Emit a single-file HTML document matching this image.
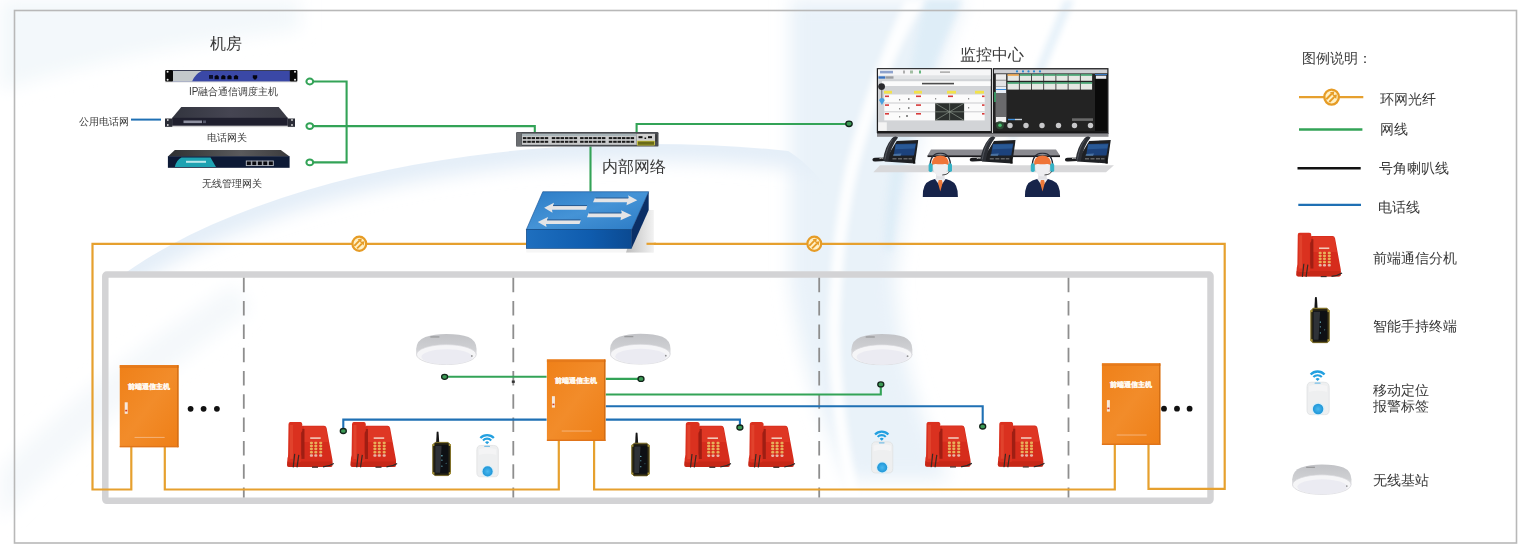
<!DOCTYPE html>
<html><head><meta charset="utf-8">
<style>
html,body{margin:0;padding:0;background:#ffffff;}
body{width:1524px;height:552px;overflow:hidden;position:relative;font-family:"Liberation Sans",sans-serif;}
svg{position:absolute;left:0;top:0;}
text{font-family:"Liberation Sans",sans-serif;fill:#383838;}
</style></head><body>
<svg width="1524" height="552" viewBox="0 0 1524 552">
<defs>
<linearGradient id="apG" x1="0" y1="0" x2="0" y2="1">
<stop offset="0" stop-color="#c2c3c7"/><stop offset="0.5" stop-color="#cfd0d3"/><stop offset="0.7" stop-color="#e2e2e5"/><stop offset="1" stop-color="#ededf0"/>
</linearGradient>
<linearGradient id="cabG" x1="0" y1="0" x2="1" y2="1">
<stop offset="0" stop-color="#ef8018"/><stop offset="0.5" stop-color="#f28c2a"/><stop offset="1" stop-color="#ee7e16"/>
</linearGradient>
<linearGradient id="rtTop" x1="0" y1="0" x2="1" y2="1">
<stop offset="0" stop-color="#2c7cc6"/><stop offset="0.5" stop-color="#4593d6"/><stop offset="1" stop-color="#2b7ac4"/>
</linearGradient>
<linearGradient id="rtFront" x1="0" y1="0" x2="1" y2="0">
<stop offset="0" stop-color="#1e6fbf"/><stop offset="0.6" stop-color="#0f5cae"/><stop offset="1" stop-color="#0b4a92"/>
</linearGradient>
<linearGradient id="rtShadow" x1="0" y1="0" x2="1" y2="0">
<stop offset="0" stop-color="#bdbdbd"/><stop offset="0.5" stop-color="#d8d8d8"/><stop offset="1" stop-color="#f2f2f2"/>
</linearGradient>
<linearGradient id="srv3Top" x1="0" y1="0" x2="1" y2="0">
<stop offset="0" stop-color="#2e3032"/><stop offset="0.6" stop-color="#5a5a5c"/><stop offset="1" stop-color="#3a3a3c"/>
</linearGradient>
<linearGradient id="srv2Top" x1="0" y1="0" x2="1" y2="0">
<stop offset="0" stop-color="#33353f"/><stop offset="0.5" stop-color="#454552"/><stop offset="1" stop-color="#3b3c45"/>
</linearGradient>
<linearGradient id="arcG" x1="0" y1="0" x2="0" y2="1"><stop offset="0" stop-color="#e6f0f8"/><stop offset="1" stop-color="#ffffff" stop-opacity="0"/></linearGradient>
<radialGradient id="tagBtn" cx="0.5" cy="0.5" r="0.5">
<stop offset="0" stop-color="#4ab8ee"/><stop offset="1" stop-color="#1f96d8"/>
</radialGradient>

<!-- red phone 48x46 -->
<symbol id="phone" viewBox="0 0 48 46">
<path d="M1,43 L1.5,36 Q3,30 7,28 L15.6,4.8 Q16,3.8 17,3.8 L38,3.8 Q40,3.8 40.6,6 L46.5,38 L46.5,43 Q46.5,45 44.5,45 L3,45 Q1,45 1,43 Z" fill="#d62c1c"/>
<path d="M18,4.5 L38,4.5 Q39.6,4.5 40,6.5 L42.5,20 L18,20 Z" fill="#e23c28" opacity="0.7"/>
<path d="M1.2,39.5 L46.5,39.5 L46.5,43 Q46.5,45 44.5,45 L3,45 Q1,45 1,43 Z" fill="#b92414" opacity="0.55"/>
<path d="M15.2,7 L18.5,7 L18.5,37 L15.2,37 Z" fill="#8c1a10" opacity="0.75"/>
<path d="M2.5,2.5 Q2.5,0 5,0 L13.8,0 Q16.3,0 16.3,2.5 L16.3,9 Q14.8,10.5 14.6,12 L14.6,31 Q15.3,33 15.3,35 L15.3,38.5 Q15.3,40.5 13.3,40.5 L4,40.5 Q2,40.5 2,38.5 Z" fill="#da311f"/>
<path d="M4,3 L7,3 L7,37 L4,37 Z" fill="#ec5c42" opacity="0.4"/>
<rect x="24.2" y="15.4" width="10.5" height="1.6" fill="#f2c8b8"/>
<g fill="#e9ad5a">
<rect x="23.8" y="19.8" width="3.2" height="2.5" rx="1.1"/><rect x="28.2" y="19.8" width="3.2" height="2.5" rx="1.1"/><rect x="33.1" y="19.8" width="3.2" height="2.5" rx="1.1"/>
<rect x="23.8" y="22.8" width="3.2" height="2.5" rx="1.1"/><rect x="28.2" y="22.8" width="3.2" height="2.5" rx="1.1"/><rect x="33.1" y="22.8" width="3.2" height="2.5" rx="1.1"/>
<rect x="23.8" y="25.8" width="3.2" height="2.5" rx="1.1"/><rect x="28.2" y="25.8" width="3.2" height="2.5" rx="1.1"/><rect x="33.1" y="25.8" width="3.2" height="2.5" rx="1.1"/>
<rect x="23.8" y="29" width="3.2" height="2.5" rx="1.1"/><rect x="28.2" y="29" width="3.2" height="2.5" rx="1.1"/><rect x="33.1" y="29" width="3.2" height="2.5" rx="1.1"/>
</g>
<g fill="#e8b4a6"><rect x="23.8" y="32.4" width="3.2" height="2.5" rx="1.1"/><rect x="28.2" y="32.4" width="3.2" height="2.5" rx="1.1"/><rect x="33.1" y="32.4" width="3.2" height="2.5" rx="1.1"/></g>
<path d="M8.7,32 L7.2,45.5 M12.8,33 L11,45.5" stroke="#3a2a24" stroke-width="1.2"/>
<path d="M37,45 Q43,44.5 47.8,41.5" stroke="#2a2a2a" stroke-width="1.2" fill="none"/>
<rect x="26" y="44.6" width="6" height="1.3" fill="#3a2a2a"/>
</symbol>

<!-- handheld 19x45 -->
<symbol id="hand" viewBox="0 0 19 45">
<path d="M4.6,0.5 Q5.5,0 6.4,0.5 L7.2,12 L4,12 Z" fill="#151515"/>
<path d="M3,11.2 L16,11.2 L18.4,13.6 L18.4,42.2 L16,44.6 L3,44.6 L0.6,42.2 L0.6,13.6 Z" fill="#2a2614" stroke="#80702a" stroke-width="1"/>
<rect x="2.6" y="13.6" width="13.8" height="28.6" rx="1.2" fill="#0e1014"/>
<path d="M3.2,14.5 L9.5,14.5 L8,41.5 L3.2,41.5 Z" fill="#4a4e54" opacity="0.55"/>
<circle cx="9.8" cy="24.5" r="0.7" fill="#7fd8e8"/><circle cx="9.8" cy="29" r="0.6" fill="#6ab8c8"/><circle cx="9.8" cy="35" r="0.6" fill="#6ab8c8"/><circle cx="14" cy="32" r="0.5" fill="#5a9aa8"/>
<g fill="#a89438"><rect x="0.3" y="12.8" width="2" height="2"/><rect x="16.7" y="12.8" width="2" height="2"/><rect x="0.3" y="41" width="2" height="2"/><rect x="16.7" y="41" width="2" height="2"/></g>
</symbol>

<!-- location tag 24x45 -->
<symbol id="tag" viewBox="0 0 24 45">
<g fill="none" stroke="#23a0e0">
<path d="M4.6,4.6 A9.4,9.4 0 0 1 18.4,4.6" stroke-width="2.3"/>
<path d="M7.3,7.1 A5.7,5.7 0 0 1 15.7,7.1" stroke-width="2.1"/>
</g>
<path d="M9.4,9 A3,3 0 0 1 13.6,9 L11.5,11 Z" fill="#23a0e0"/>
<path d="M5,12.2 L18,12.2 Q22.8,12.2 23,17 L23,40 Q23,44.5 18.5,44.5 L5.5,44.5 Q1,44.5 1,40 L1,17 Q1.2,12.2 5,12.2 Z" fill="#eeeff0" stroke="#dcdedf" stroke-width="0.7"/>
<path d="M3,16 Q12,13.5 21,16 L21,22 Q12,19.5 3,22 Z" fill="#f6f6f7" opacity="0.7"/>
<rect x="8.5" y="12.5" width="6" height="1.3" rx="0.6" fill="#7ac0e6"/>
<circle cx="12" cy="38.8" r="6.4" fill="#d8eef8"/>
<circle cx="12" cy="38.8" r="5.2" fill="url(#tagBtn)"/>
</symbol>

<!-- AP 62x32 -->
<symbol id="ap" viewBox="0 0 62 32">
<path d="M0.8,21 L0.8,16 Q1.5,7 10,4 Q19,1 31,1 Q45,1 53,4 Q61,7.5 61.2,16 L61.2,21 A30.2,10.5 0 0 1 0.8,21 Z" fill="url(#apG)"/>
<ellipse cx="31" cy="21.6" rx="29.8" ry="10" fill="#f5f5f7" stroke="#d6d6da" stroke-width="0.7"/>
<ellipse cx="31.5" cy="23.8" rx="25.5" ry="7.6" fill="#ebebf2"/>
<rect x="15" y="3.3" width="9" height="1.3" fill="#777" opacity="0.55"/>
<circle cx="56.5" cy="23" r="0.9" fill="#555" opacity="0.6"/>
</symbol>

<!-- cabinet 59x82 -->
<symbol id="cab" viewBox="0 0 59 82">
<rect x="0" y="0" width="59" height="82" fill="url(#cabG)"/>
<rect x="0" y="0" width="59" height="2.8" fill="#e67a1a"/>
<rect x="57.5" y="0" width="1.5" height="82" fill="#d06c14"/>
<rect x="0" y="80.5" width="59" height="1.5" fill="#e0741a"/>
<text x="29.5" y="23.4" text-anchor="middle" font-size="7.3" font-weight="bold" style="font-family:'Liberation Serif',serif;fill:#fff8ee;stroke:#fff8ee;stroke-width:0.2">前端通信主机</text>
<rect x="5.2" y="37" width="3" height="11.5" fill="#f6e8dc"/>
<rect x="5.7" y="44.5" width="2" height="1.6" fill="#d23a20"/>
<rect x="15" y="71.5" width="30" height="1" fill="#f8d0b0" opacity="0.6"/>
</symbol>

<!-- IP desk phone -->
<symbol id="ipphone" viewBox="0 0 47 29">
<path d="M1,24.2 Q0.6,22 3.5,21.8 L13,21.5 L13.5,25 L4,25.6 Q1.4,25.8 1,24.2 Z" fill="#1c1d20"/>
<path d="M8,22.6 Q10,21.6 12,22.4" stroke="#ddd" stroke-width="0.8" fill="none"/>
<path d="M25.2,4.9 L46.8,4.1 L43.4,27.4 L12.9,25.4 Z" fill="#1e2024"/>
<path d="M24,8 L44.6,7.4 L42.4,19.6 L22.2,19.6 Z" fill="#1c427c"/>
<path d="M24.5,8.6 L44,8.2 L43.2,12.5 L23.6,13.2 Z" fill="#3670b0" opacity="0.5"/>
<path d="M22,18 L30,17.5 L29,20 L21.5,20 Z" fill="#8ab8e0" opacity="0.4"/>
<g fill="#aaa" opacity="0.8"><rect x="21" y="22.4" width="4" height="0.9"/><rect x="26.5" y="22.4" width="4" height="0.9"/><rect x="32" y="22.4" width="4" height="0.9"/><rect x="37" y="22.4" width="3.5" height="0.9"/></g>
<path d="M11.5,24.5 Q13,11 20.5,2.2 Q22.3,0.2 24.5,0.6 L26.6,1.6 Q19.5,10 16.8,25 Z" fill="#2c2f35"/>
<path d="M20.8,3.5 Q15.5,11 13.4,23.5" stroke="#5a5e66" stroke-width="0.8" fill="none"/>
<path d="M42,19 L44,27.6 L41.5,27.6 Z" fill="#111"/>
</symbol>

<!-- operator -->
<symbol id="person" viewBox="0 0 36 45">
<path d="M0.4,44.6 Q0,31 8,28 Q12,26.2 18,26.2 Q24,26.2 28,28 Q36,31 35.6,44.6 Z" fill="#17244a"/>
<path d="M12.5,26.3 L18,34 L23.5,26.3 Z" fill="#f0f0f4"/>
<path d="M16.4,27.5 L19.6,27.5 L20.3,30.5 L18,39 L15.7,30.5 Z" fill="#ee7a3a"/>
<rect x="13.8" y="19" width="8.4" height="8" fill="#e2e2e6"/>
<path d="M10.5,11 Q10.5,23.5 18,24.2 Q25.5,23.5 25.5,11 Z" fill="#eeeef1"/>
<path d="M9.3,13.8 Q8.8,3.2 18,3.2 Q27.2,3.2 26.7,13.8 Q25,11.2 22.5,11.6 Q18,12.3 13.5,11.6 Q11,11.2 9.3,13.8 Z" fill="#ef7438"/>
<path d="M7.8,15 Q7.4,0.8 18,0.8 Q28.6,0.8 28.2,15" fill="none" stroke="#262a36" stroke-width="1.3"/>
<rect x="6.3" y="10.8" width="4" height="8.8" rx="1.8" fill="#35b2c6"/>
<rect x="25.7" y="10.8" width="4" height="8.8" rx="1.8" fill="#35b2c6"/>
<path d="M27,19 Q26,22.2 20,22.6" fill="none" stroke="#333" stroke-width="0.9"/>
</symbol>

<!-- fiber symbol -->
<symbol id="fiber" viewBox="-9 -9 18 18">
<ellipse cx="0" cy="0" rx="6.9" ry="7.1" fill="#fff0c4" stroke="#e69c26" stroke-width="2.2"/>
<g stroke="#e69c26" stroke-width="1.9" fill="none">
<line x1="-5" y1="2" x2="0.1" y2="-3.1"/>
<line x1="-2.2" y1="4.6" x2="2.6" y2="-0.2"/>
</g>
<g fill="#e69c26">
<path d="M2.5,-5.2 L1.9,-1.0 L-1.6,-4.5 Z"/>
<path d="M5,-2.5 L4.4,1.7 L0.9,-1.8 Z"/>
</g>
</symbol>
</defs>

<!-- background -->
<rect x="0" y="0" width="1524" height="552" fill="#ffffff"/>
<g id="bg">
<filter id="blur8" x="-50%" y="-50%" width="200%" height="200%"><feGaussianBlur stdDeviation="9"/></filter>
<filter id="blur3" x="-50%" y="-50%" width="200%" height="200%"><feGaussianBlur stdDeviation="3"/></filter>
<g filter="url(#blur8)">
<path d="M790,0 L965,0 Q915,120 895,280 Q900,380 950,480 L850,480 Q800,380 790,280 Q790,120 790,0 Z" fill="#e9f2f9"/>

<path d="M0,520 L0,470 Q110,360 235,285 L250,310 Q120,400 0,520 Z" fill="#f4f8fb"/>
<path d="M0,0 L300,0 L300,30 Q150,45 0,90 Z" fill="#f3f8fb"/>
</g>
<clipPath id="ell1"><ellipse cx="650" cy="420" rx="620" ry="276"/></clipPath>
<clipPath id="topHalf"><path d="M0,0 L760,0 L760,140 Q820,150 880,276 L0,276 Z"/></clipPath>
<g clip-path="url(#topHalf)"><g clip-path="url(#ell1)">
<ellipse cx="650" cy="420" rx="620" ry="276" fill="none" stroke="#e4eef8" stroke-width="34" filter="url(#blur8)"/>
</g></g>
<g filter="url(#blur3)">
<path d="M905,0 L925,0 Q880,80 858,170 Q842,240 840,330 Q842,420 860,500 L848,500 Q830,420 828,330 Q830,240 846,165 Q868,80 905,0 Z" fill="#ffffff" opacity="0.9"/>
<path d="M925,0 L962,0 Q930,70 912,130 Q898,190 892,250 L884,250 Q886,180 900,120 Q912,60 925,0 Z" fill="#deedf7"/>
<path d="M1064,0 L1074,0 Q1045,70 1015,140 L1008,140 Q1035,70 1064,0 Z" fill="#e6f1f9"/>

</g>
</g>
<!-- outer border -->
<rect x="14.5" y="10.5" width="1502" height="532.5" fill="none" stroke="#b8b8b8" stroke-width="1.6"/>

<!-- tunnel frame -->
<rect x="105.3" y="274.5" width="1105.2" height="226.3" rx="1.5" fill="none" stroke="#d3d3d5" stroke-width="6.5"/>
<!-- dashed separators -->
<g stroke="#8e8e8e" stroke-width="1.8" stroke-dasharray="14.5 8.8">
<line x1="243.8" y1="277.8" x2="243.8" y2="497.6"/>
<line x1="513.3" y1="277.8" x2="513.3" y2="497.6"/>
<line x1="819.2" y1="277.8" x2="819.2" y2="497.6"/>
<line x1="1068.5" y1="277.8" x2="1068.5" y2="497.6"/>
</g>

<!-- orange ring -->
<g fill="none" stroke="#e6a02e" stroke-width="2.2">
<polyline points="526,243.8 92.5,243.8 92.5,489.5 131.3,489.5 131.3,447"/>
<polyline points="164.8,447 164.8,489.5 558.8,489.5 558.8,440"/>
<polyline points="594.1,440 594.1,489.5 1114.8,489.5 1114.8,444"/>
<polyline points="1148.5,444 1148.5,488.8 1224.7,488.8 1224.7,243.8 647,243.8"/>
</g>
<use href="#fiber" x="350.3" y="234.8" width="18" height="18"/>
<use href="#fiber" x="805.3" y="234.8" width="18" height="18"/>

<!-- inner network lines -->
<g fill="none" stroke-width="2.1">
<path d="M445,376.8 L546.6,376.8" stroke="#33a357"/>
<path d="M605.7,378.9 L641,378.9" stroke="#33a357"/>
<path d="M605.7,394.5 L880.8,394.5 L880.8,385" stroke="#33a357"/>
<path d="M605.7,406.2 L982.7,406.2 L982.7,426.5" stroke="#1f70b4"/>
<path d="M605.7,419.6 L739.9,419.6 L739.9,427.5" stroke="#1f70b4"/>
<path d="M546.6,419.6 L343.3,419.6 L343.3,431" stroke="#1f70b4"/>
</g>
<g fill="#3c9a55" stroke="#12241a" stroke-width="1.3">
<ellipse cx="444.6" cy="376.8" rx="3" ry="2.5"/>
<ellipse cx="641" cy="378.9" rx="3" ry="2.5"/>
<ellipse cx="880.8" cy="384.4" rx="3" ry="2.5"/>
<ellipse cx="982.7" cy="426.5" rx="3" ry="2.5"/>
<ellipse cx="739.9" cy="427.5" rx="3" ry="2.5"/>
<ellipse cx="343.3" cy="431" rx="3" ry="2.5"/>
</g>

<rect x="511.8" y="380.5" width="3" height="2.4" fill="#333"/>
<!-- cabinets -->
<use href="#cab" x="119.5" y="365" width="59.2" height="82.6"/>
<use href="#cab" x="546.6" y="359.3" width="59.1" height="81.7"/>
<use href="#cab" x="1101.7" y="363.2" width="58.9" height="81.8"/>
<g fill="#111">
<circle cx="190.6" cy="408.8" r="2.9"/><circle cx="203.6" cy="408.8" r="2.9"/><circle cx="216.9" cy="408.8" r="2.9"/>
<circle cx="1164" cy="408.7" r="2.9"/><circle cx="1177" cy="408.7" r="2.9"/><circle cx="1189.6" cy="408.7" r="2.9"/>
</g>

<!-- APs -->
<use href="#ap" x="415.2" y="333" width="62.3" height="32"/>
<use href="#ap" x="609.3" y="332.5" width="62" height="32.3"/>
<use href="#ap" x="850.4" y="333" width="62.9" height="32.3"/>
<use href="#ap" x="1291.4" y="463" width="60.8" height="32.3"/>

<!-- phones -->
<use href="#phone" x="286" y="421.9" width="48" height="46"/>
<use href="#phone" x="349.5" y="421.9" width="48" height="46"/>
<use href="#phone" x="683.3" y="422" width="48" height="46"/>
<use href="#phone" x="747.3" y="422" width="48" height="46"/>
<use href="#phone" x="924" y="421.8" width="48" height="46"/>
<use href="#phone" x="996.8" y="421.8" width="48" height="46"/>
<use href="#phone" x="1294.8" y="232.4" width="48" height="45"/>

<!-- handhelds -->
<use href="#hand" x="432.1" y="431.2" width="19" height="45"/>
<use href="#hand" x="631" y="432.2" width="19" height="44.3"/>
<use href="#hand" x="1309.8" y="296.8" width="20.5" height="46.5"/>

<!-- tags -->
<use href="#tag" x="475.8" y="433.5" width="23.6" height="44"/>
<use href="#tag" x="870.6" y="429.8" width="23.2" height="44"/>
<use href="#tag" x="1306" y="369.6" width="24.2" height="46"/>

<!-- ===== machine room ===== -->
<!-- server 1 -->
<g>
<rect x="165.2" y="81" width="132" height="1.4" fill="#bbb" opacity="0.6"/>
<rect x="172.5" y="70.2" width="117.5" height="11.2" fill="#3a48a6"/>
<path d="M172.5,70.4 L202.5,70.4 Q195,74 192,81.4 L172.5,81.4 Z" fill="#c4c9cb"/>
<rect x="172.5" y="70" width="117.5" height="1" fill="#3b3f55"/>
<rect x="165.2" y="70" width="7.8" height="11.6" rx="1" fill="#0a0a0a"/>
<rect x="289.8" y="70" width="7.6" height="11.6" rx="1" fill="#0a0a0a"/>
<circle cx="167.6" cy="71.8" r="1" fill="#eee"/><circle cx="167.6" cy="79.8" r="1" fill="#eee"/>
<circle cx="295" cy="71.8" r="1" fill="#eee"/><circle cx="295" cy="79.8" r="1" fill="#eee"/>
<rect x="209" y="75" width="4" height="3.8" fill="#0c1030"/>
<g fill="#050510">
<path d="M214.6,79.2 L214.6,76.5 L215.8,75.2 L217.6,75.2 L218.8,76.5 L218.8,79.2 Z"/>
<path d="M221.2,79.2 L221.2,76.5 L222.4,75.2 L224.2,75.2 L225.4,76.5 L225.4,79.2 Z"/>
<path d="M227.4,79.2 L227.4,76.5 L228.6,75.2 L230.4,75.2 L231.6,76.5 L231.6,79.2 Z"/>
<path d="M233.9,79.2 L233.9,76.5 L235.1,75.2 L236.9,75.2 L238.1,76.5 L238.1,79.2 Z"/>
<path d="M252.8,75.2 L257.2,75.2 L257.2,77.6 L256,79.4 L254,79.4 L252.8,77.6 Z"/>
</g>
</g>
<text x="189" y="95" font-size="10" textLength="89" lengthAdjust="spacingAndGlyphs">IP融合通信调度主机</text>

<!-- server 2 -->
<g>
<rect x="165" y="125.5" width="130" height="1.6" fill="#aaa" opacity="0.5"/>
<path d="M181.3,107.1 L278.7,107.1 L287.8,118 L172.1,118 Z" fill="url(#srv2Top)"/>
<rect x="172.1" y="117.8" width="115.7" height="7.9" fill="#1f1f2e"/>
<rect x="165" y="118.5" width="7.3" height="8.3" fill="#2a2c36"/>
<rect x="287.8" y="118.5" width="7.2" height="8.3" fill="#2a2c36"/>
<circle cx="167.8" cy="120" r="0.9" fill="#ddd"/><circle cx="167.8" cy="125" r="0.9" fill="#ddd"/>
<circle cx="292" cy="120" r="0.9" fill="#ddd"/><circle cx="292" cy="125" r="0.9" fill="#ddd"/>
<rect x="183.5" y="120.5" width="18.5" height="2.6" fill="#8e90a0"/>
<rect x="203" y="120.5" width="3" height="2.6" fill="#55586a"/>
</g>
<text x="206.8" y="141.3" font-size="10">电话网关</text>
<text x="78.8" y="124.5" font-size="10">公用电话网</text>
<line x1="131" y1="119.6" x2="161" y2="119.6" stroke="#1f70b4" stroke-width="2"/>

<!-- server 3 -->
<g>
<path d="M174.8,149.9 L280.8,149.9 L289.6,156.4 L167.9,156.4 Z" fill="url(#srv3Top)"/>
<rect x="167.9" y="156.2" width="121.7" height="11.6" fill="#0d1a36"/>
<path d="M174.8,167 Q176.5,160 181.5,157.6 L210.5,157.6 L216,167 Z" fill="#1ea2b2"/>
<rect x="186" y="160.8" width="20" height="2" fill="#d8f4f6" opacity="0.85"/>
<g fill="#0a0a10" stroke="#b8bcc4" stroke-width="0.9">
<rect x="246.3" y="161" width="5" height="4.6"/><rect x="251.8" y="161" width="5" height="4.6"/><rect x="257.3" y="161" width="5" height="4.6"/><rect x="262.8" y="161" width="5" height="4.6"/><rect x="268.3" y="161" width="5" height="4.6"/>
</g>
</g>
<text x="201.8" y="187.4" font-size="10">无线管理网关</text>

<!-- green connectors machine room -->
<g fill="none" stroke="#33a357" stroke-width="2.1">
<path d="M313.4,81.5 L346.6,81.5 L346.6,162.4 L313.4,162.4"/>
<path d="M313.4,126.1 L534.8,126.1 L534.8,132.5"/>
<path d="M636.6,132.5 L636.6,124 L849,124"/>
<path d="M590.5,146.5 L590.5,191.5"/>
</g>
<g fill="#fff" stroke="#33a357" stroke-width="2">
<ellipse cx="309.8" cy="81.5" rx="3.4" ry="2.9"/>
<ellipse cx="309.8" cy="126.1" rx="3.4" ry="2.9"/>
<ellipse cx="309.8" cy="162.4" rx="3.4" ry="2.9"/>
</g>
<ellipse cx="849" cy="123.8" rx="3.2" ry="2.7" fill="#3c9a55" stroke="#12241a" stroke-width="1.3"/>

<!-- switch -->
<g>
<rect x="516.1" y="132.1" width="142.4" height="14.5" rx="1.2" fill="#4a4d52"/>
<rect x="516.5" y="132.5" width="5.2" height="13.7" fill="#6a6d70"/>
<rect x="522" y="133.8" width="114.3" height="11" fill="#c9cacb"/>
<rect x="522" y="133.8" width="114.3" height="2.2" fill="#a8b4b8"/>
<g fill="#1a1a1a" id="swports">
<rect x="522.9" y="137.1" width="3.5" height="2" /><rect x="522.9" y="140.8" width="3.5" height="2" /><rect x="527.3" y="137.1" width="3.5" height="2" /><rect x="527.3" y="140.8" width="3.5" height="2" /><rect x="531.6" y="137.1" width="3.5" height="2" /><rect x="531.6" y="140.8" width="3.5" height="2" /><rect x="536.0" y="137.1" width="3.5" height="2" /><rect x="536.0" y="140.8" width="3.5" height="2" /><rect x="540.4" y="137.1" width="3.5" height="2" /><rect x="540.4" y="140.8" width="3.5" height="2" /><rect x="544.7" y="137.1" width="3.5" height="2" /><rect x="544.7" y="140.8" width="3.5" height="2" /><rect x="551.8" y="137.1" width="3.5" height="2" /><rect x="551.8" y="140.8" width="3.5" height="2" /><rect x="556.2" y="137.1" width="3.5" height="2" /><rect x="556.2" y="140.8" width="3.5" height="2" /><rect x="560.5" y="137.1" width="3.5" height="2" /><rect x="560.5" y="140.8" width="3.5" height="2" /><rect x="564.9" y="137.1" width="3.5" height="2" /><rect x="564.9" y="140.8" width="3.5" height="2" /><rect x="569.3" y="137.1" width="3.5" height="2" /><rect x="569.3" y="140.8" width="3.5" height="2" /><rect x="573.6" y="137.1" width="3.5" height="2" /><rect x="573.6" y="140.8" width="3.5" height="2" /><rect x="580.1" y="137.1" width="3.5" height="2" /><rect x="580.1" y="140.8" width="3.5" height="2" /><rect x="584.5" y="137.1" width="3.5" height="2" /><rect x="584.5" y="140.8" width="3.5" height="2" /><rect x="588.8" y="137.1" width="3.5" height="2" /><rect x="588.8" y="140.8" width="3.5" height="2" /><rect x="593.2" y="137.1" width="3.5" height="2" /><rect x="593.2" y="140.8" width="3.5" height="2" /><rect x="597.6" y="137.1" width="3.5" height="2" /><rect x="597.6" y="140.8" width="3.5" height="2" /><rect x="601.9" y="137.1" width="3.5" height="2" /><rect x="601.9" y="140.8" width="3.5" height="2" /><rect x="608.8" y="137.1" width="3.5" height="2" /><rect x="608.8" y="140.8" width="3.5" height="2" /><rect x="613.2" y="137.1" width="3.5" height="2" /><rect x="613.2" y="140.8" width="3.5" height="2" /><rect x="617.5" y="137.1" width="3.5" height="2" /><rect x="617.5" y="140.8" width="3.5" height="2" /><rect x="621.9" y="137.1" width="3.5" height="2" /><rect x="621.9" y="140.8" width="3.5" height="2" /><rect x="626.3" y="137.1" width="3.5" height="2" /><rect x="626.3" y="140.8" width="3.5" height="2" /><rect x="630.6" y="137.1" width="3.5" height="2" /><rect x="630.6" y="140.8" width="3.5" height="2" />
</g>
<rect x="636.5" y="133.8" width="18.5" height="11.3" fill="#d0d0d0"/>
<rect x="637.5" y="141.1" width="17" height="4" fill="#6a6a18" stroke="#d8d030" stroke-width="0.6"/>
<rect x="638.5" y="136.2" width="4" height="2" fill="#111"/><rect x="644.5" y="137.5" width="1.6" height="1.5" fill="#111"/><rect x="648" y="136.2" width="4" height="2" fill="#111"/>
<rect x="655.5" y="134.5" width="1.2" height="7" fill="#333"/>
</g>

<!-- router -->
<g>
<path d="M526.3,248.4 L653.8,248.4 L653.8,252.5 L526.3,252.5 Z" fill="#f6f6f6"/><path d="M640,210 L653.8,210 L653.8,252.5 L626,252.5 Z" fill="url(#rtShadow)"/>
<path d="M542.8,191.7 L648.7,191.7 L631.6,229.7 L526.3,229.7 Z" fill="url(#rtTop)" stroke="#0d4c90" stroke-width="0.6"/>
<rect x="526.3" y="229.7" width="105.3" height="18.7" fill="url(#rtFront)" stroke="#0a3f7a" stroke-width="0.6"/>
<path d="M648.7,191.7 L648.7,210.1 L631.6,248.4 L631.6,229.7 Z" fill="#0b2f66"/>
<g fill="#e4e4e6">
<path d="M594.8,198.3 L629,198.3 L628,195.2 L637.3,200.2 L626.5,205.2 L627,202.2 L593,202.2 Z"/>
<path d="M587.2,205.9 L553,205.9 L554,202.8 L544.1,207.8 L552.5,212.8 L552,209.8 L586,209.8 Z"/>
<path d="M588.5,213.3 L622,213.3 L621,210.2 L631.6,215.2 L620.5,220.2 L621,217.2 L587,217.2 Z"/>
<path d="M580.9,220.2 L547,220.2 L548,217.1 L537.8,222.1 L546.5,227.1 L546,224.1 L579.5,224.1 Z"/>
</g>
<g stroke="#1a3a6a" stroke-width="0.9" opacity="0.7">
<line x1="595.5" y1="198" x2="628" y2="198"/><line x1="553" y1="205.6" x2="587" y2="205.6"/>
<line x1="589" y1="213" x2="621" y2="213"/><line x1="547" y1="219.9" x2="580.5" y2="219.9"/>
</g>
</g>

<line x1="646.5" y1="243.8" x2="656" y2="243.8" stroke="#e6a02e" stroke-width="2.2"/>
<!-- ===== monitoring center ===== -->
<g>
<!-- floor slab -->
<path d="M880,165.3 L1114,165.3 L1106,172.3 L873.3,172.3 Z" fill="#d8d8da"/>
<!-- desk -->
<path d="M931,149.6 L1056,149.6 L1060,155.5 L927.5,155.5 Z" fill="#8a8a90"/>
<rect x="927.5" y="155.3" width="132.5" height="1.8" fill="#1a1a1e"/>
<!-- monitors -->
<rect x="876.8" y="68.1" width="115.2" height="65" fill="#202022"/>
<rect x="878" y="69.4" width="112.8" height="62.2" fill="#d2d4d7"/>
<rect x="878" y="69.4" width="112.8" height="6.3" fill="#f6f6f7"/>
<rect x="880" y="70.8" width="13" height="2.6" fill="#4a6ab0" opacity="0.6"/>
<rect x="903" y="70.5" width="2" height="3" fill="#666" opacity="0.5"/><rect x="910" y="70.5" width="3" height="3" fill="#6a9a6a" opacity="0.6"/><rect x="919" y="70.5" width="2" height="3" fill="#2a9a4a" opacity="0.7"/>
<rect x="940" y="71.5" width="10" height="1.2" fill="#555" opacity="0.6"/>
<rect x="878" y="75.7" width="112.8" height="3.4" fill="#e2e4e6"/>
<rect x="878.4" y="76.3" width="6.8" height="2.4" fill="#3a72c0"/><rect x="885.5" y="76.3" width="8" height="2.4" fill="#9a9ca0"/>
<rect x="882" y="81.2" width="108.5" height="4.8" fill="#fbfbfb"/>
<rect x="922" y="82.8" width="32" height="1.6" fill="#222" opacity="0.8"/>
<g fill="#f2e24a"><rect x="884" y="90.8" width="8" height="2.8"/><rect x="914" y="90.8" width="8" height="2.8"/><rect x="947" y="90.8" width="9" height="2.8"/><rect x="975" y="90.8" width="9" height="2.8"/></g>
<rect x="884.3" y="94.5" width="100.4" height="25.9" fill="#fbfbfb"/>
<g stroke="#b8b8bc" stroke-width="0.7"><line x1="884.3" y1="103" x2="984.7" y2="103"/><line x1="884.3" y1="111.8" x2="984.7" y2="111.8"/></g>
<rect x="935.2" y="103.2" width="28.9" height="17.2" fill="#2c302e"/>
<path d="M935.2,103.2 L964.1,120.4 M964.1,103.2 L935.2,120.4 M949.6,103.2 L949.6,120.4 M935.2,111.8 L964.1,111.8" stroke="#8a948a" stroke-width="0.7"/>
<g fill="#d83a3a"><rect x="885" y="95.5" width="4" height="1.6"/><rect x="916" y="95.5" width="5" height="1.6"/><rect x="948" y="95.5" width="5" height="1.6"/><rect x="982" y="95.5" width="2.5" height="1.6"/><rect x="885" y="104.3" width="4" height="1.6"/><rect x="916" y="104.3" width="5" height="1.6"/><rect x="982" y="104.3" width="2.5" height="1.6"/><rect x="885" y="113" width="4" height="1.6"/><rect x="916" y="113" width="5" height="1.6"/><rect x="982" y="113" width="2.5" height="1.6"/></g>
<g fill="#444" opacity="0.6"><rect x="899" y="99" width="1.2" height="1.5"/><rect x="908" y="98" width="1.5" height="2"/><rect x="899" y="108" width="1.2" height="1.5"/><rect x="908" y="107" width="1.5" height="2"/><rect x="899" y="116" width="1.2" height="1.5"/><rect x="906" y="115" width="2" height="2"/><rect x="935" y="98" width="1.2" height="1.5"/><rect x="968" y="98" width="1.2" height="1.5"/><rect x="968" y="107" width="1.2" height="1.5"/></g>
<circle cx="881.6" cy="86.6" r="3.4" fill="#2a2a2e"/>
<line x1="881.8" y1="90" x2="881.8" y2="99" stroke="#555" stroke-width="0.8"/>
<path d="M879.3,100.5 A2.6,2.6 0 1 1 884.5,100.5 L881.9,105 Z" fill="#4aa0e0"/>
<rect x="878.3" y="122.3" width="8.5" height="8.5" fill="#f4f4f4"/>
<rect x="878" y="131" width="112.8" height="1.6" fill="#1a1a1a"/>
<rect x="992.8" y="68.1" width="115.7" height="65.5" fill="#202022"/>
<rect x="994" y="69.4" width="113.3" height="62.6" fill="#232323"/>
<rect x="994" y="69.4" width="113.3" height="4" fill="#cfd0d4"/>
<g fill="#2a8ad0"><circle cx="1017" cy="71.4" r="1.1"/><circle cx="1023" cy="71.4" r="1.1"/><circle cx="1028.5" cy="71.4" r="1.1"/><circle cx="1034" cy="71.4" r="1.1"/><circle cx="1040" cy="71.4" r="1.1"/></g>
<rect x="995.5" y="73.8" width="11" height="49" fill="#6a6a6c"/>
<rect x="996" y="74.3" width="10" height="5.5" fill="#ececec"/><rect x="996" y="80.5" width="10" height="5.5" fill="#e4e4e6"/>
<rect x="996" y="86.5" width="10" height="6.5" fill="#e8eef6"/><rect x="996" y="89" width="10" height="1" fill="#3a8ad8"/>
<rect x="996" y="117" width="10" height="5" fill="#f0f0f0"/>
<rect x="994.2" y="92" width="1.6" height="10" fill="#3aa86a"/>
<g>
<rect x="1007.5" y="74.3" width="11.4" height="6.5" fill="#e6e8e4"/><rect x="1007.5" y="74.3" width="11.4" height="1.4" fill="#f09a30"/>
<rect x="1019.7" y="74.3" width="11.4" height="6.5" fill="#e6e8e4"/><rect x="1019.7" y="74.3" width="11.4" height="1.4" fill="#2a9a60"/>
<rect x="1031.9" y="74.3" width="11.4" height="6.5" fill="#e6e8e4"/><rect x="1031.9" y="74.3" width="11.4" height="1.4" fill="#2a9a60"/>
<rect x="1044.1" y="74.3" width="11.4" height="6.5" fill="#e6e8e4"/><rect x="1044.1" y="74.3" width="11.4" height="1.4" fill="#2a9a60"/>
<rect x="1056.3" y="74.3" width="11.4" height="6.5" fill="#e6e8e4"/><rect x="1056.3" y="74.3" width="11.4" height="1.4" fill="#2a9a60"/>
<rect x="1068.5" y="74.3" width="11.4" height="6.5" fill="#e6e8e4"/><rect x="1068.5" y="74.3" width="11.4" height="1.4" fill="#2a9a60"/>
<rect x="1080.7" y="74.3" width="11.4" height="6.5" fill="#e6e8e4"/><rect x="1080.7" y="74.3" width="11.4" height="1.4" fill="#2a9a60"/>
<rect x="1007.5" y="82.3" width="11.4" height="7.3" fill="#e6e8e4"/><rect x="1007.5" y="82.3" width="11.4" height="1.4" fill="#2a9a60"/>
<rect x="1019.7" y="82.3" width="11.4" height="7.3" fill="#e6e8e4"/><rect x="1019.7" y="82.3" width="11.4" height="1.4" fill="#2a9a60"/>
<rect x="1031.9" y="82.3" width="11.4" height="7.3" fill="#e6e8e4"/><rect x="1031.9" y="82.3" width="11.4" height="1.4" fill="#2a9a60"/>
<rect x="1044.1" y="82.3" width="11.4" height="7.3" fill="#e6e8e4"/><rect x="1044.1" y="82.3" width="11.4" height="1.4" fill="#2a9a60"/>
<rect x="1056.3" y="82.3" width="11.4" height="7.3" fill="#e6e8e4"/><rect x="1056.3" y="82.3" width="11.4" height="1.4" fill="#2a9a60"/>
<rect x="1068.5" y="82.3" width="11.4" height="7.3" fill="#e6e8e4"/><rect x="1068.5" y="82.3" width="11.4" height="1.4" fill="#2a9a60"/>
<rect x="1080.7" y="82.3" width="11.4" height="7.3" fill="#e6e8e4"/><rect x="1080.7" y="82.3" width="11.4" height="1.4" fill="#2a9a60"/>
</g>
<rect x="1095" y="73.8" width="12" height="57" fill="#0a0a0a"/>
<rect x="1095.8" y="75.6" width="10.5" height="3.2" fill="#e8e8ec"/>
<rect x="1095" y="74" width="12" height="1.2" fill="#3a7ac0"/>
<circle cx="1000" cy="125.3" r="4" fill="#2e4a34"/><circle cx="1000" cy="125.3" r="1.8" fill="#4ac070"/>
<g fill="#c8c8ca"><circle cx="1010" cy="125.5" r="2.7"/><circle cx="1026" cy="125.5" r="2.7"/><circle cx="1042" cy="125.5" r="2.7"/><circle cx="1058.5" cy="125.5" r="2.7"/><circle cx="1074.5" cy="125.5" r="2.7"/><circle cx="1090.5" cy="125.5" r="2.7"/></g>
<rect x="1008" y="118.8" width="7" height="1.4" fill="#3a8ad8"/><rect x="1015" y="118.8" width="7" height="1.4" fill="#c8d0d8"/>
<rect x="1072" y="118.3" width="21" height="2.6" fill="#6a6a6a"/>
<rect x="994" y="131.5" width="113.3" height="1.2" fill="#111"/>
<rect x="877" y="133" width="231.5" height="3.8" fill="#8c8c90"/><rect x="877" y="133" width="231.5" height="1" fill="#5a5a5e"/>
</g>
<use href="#ipphone" x="871.5" y="136" width="47" height="29"/>
<use href="#ipphone" x="968.8" y="136" width="47" height="29"/>
<use href="#ipphone" x="1064" y="136" width="47" height="29"/>
<use href="#person" x="922.3" y="152.4" width="36" height="45"/>
<use href="#person" x="1024.5" y="152.4" width="36" height="45"/>

<!-- ===== legend ===== -->
<g font-size="13.5">
<text x="1301.5" y="63.2">图例说明：</text>
<text x="1379.5" y="103.5">环网光纤</text>
<text x="1379.5" y="133.5">网线</text>
<text x="1379" y="172.5">号角喇叭线</text>
<text x="1377.5" y="211.6">电话线</text>
<text x="1373" y="263">前端通信分机</text>
<text x="1373" y="331.3">智能手持终端</text>
<text x="1373" y="395.3">移动定位</text>
<text x="1373" y="411">报警标签</text>
<text x="1373" y="484.7">无线基站</text>
</g>
<line x1="1299" y1="97.1" x2="1363.3" y2="97.1" stroke="#e6a02e" stroke-width="2.4"/>
<use href="#fiber" x="1322.1" y="87.6" width="19" height="19"/>
<line x1="1299" y1="129.5" x2="1362.4" y2="129.5" stroke="#33a357" stroke-width="2.4"/>
<line x1="1297.5" y1="168.3" x2="1360.7" y2="168.3" stroke="#111" stroke-width="2.4"/>
<line x1="1298.3" y1="204.9" x2="1361" y2="204.9" stroke="#1f70b4" stroke-width="2.4"/>

<!-- texts -->
<g font-size="16">
<text x="209.5" y="48.7">机房</text>
<text x="602" y="172">内部网络</text>
<text x="960" y="60">监控中心</text>
</g>
</svg>
</body></html>
